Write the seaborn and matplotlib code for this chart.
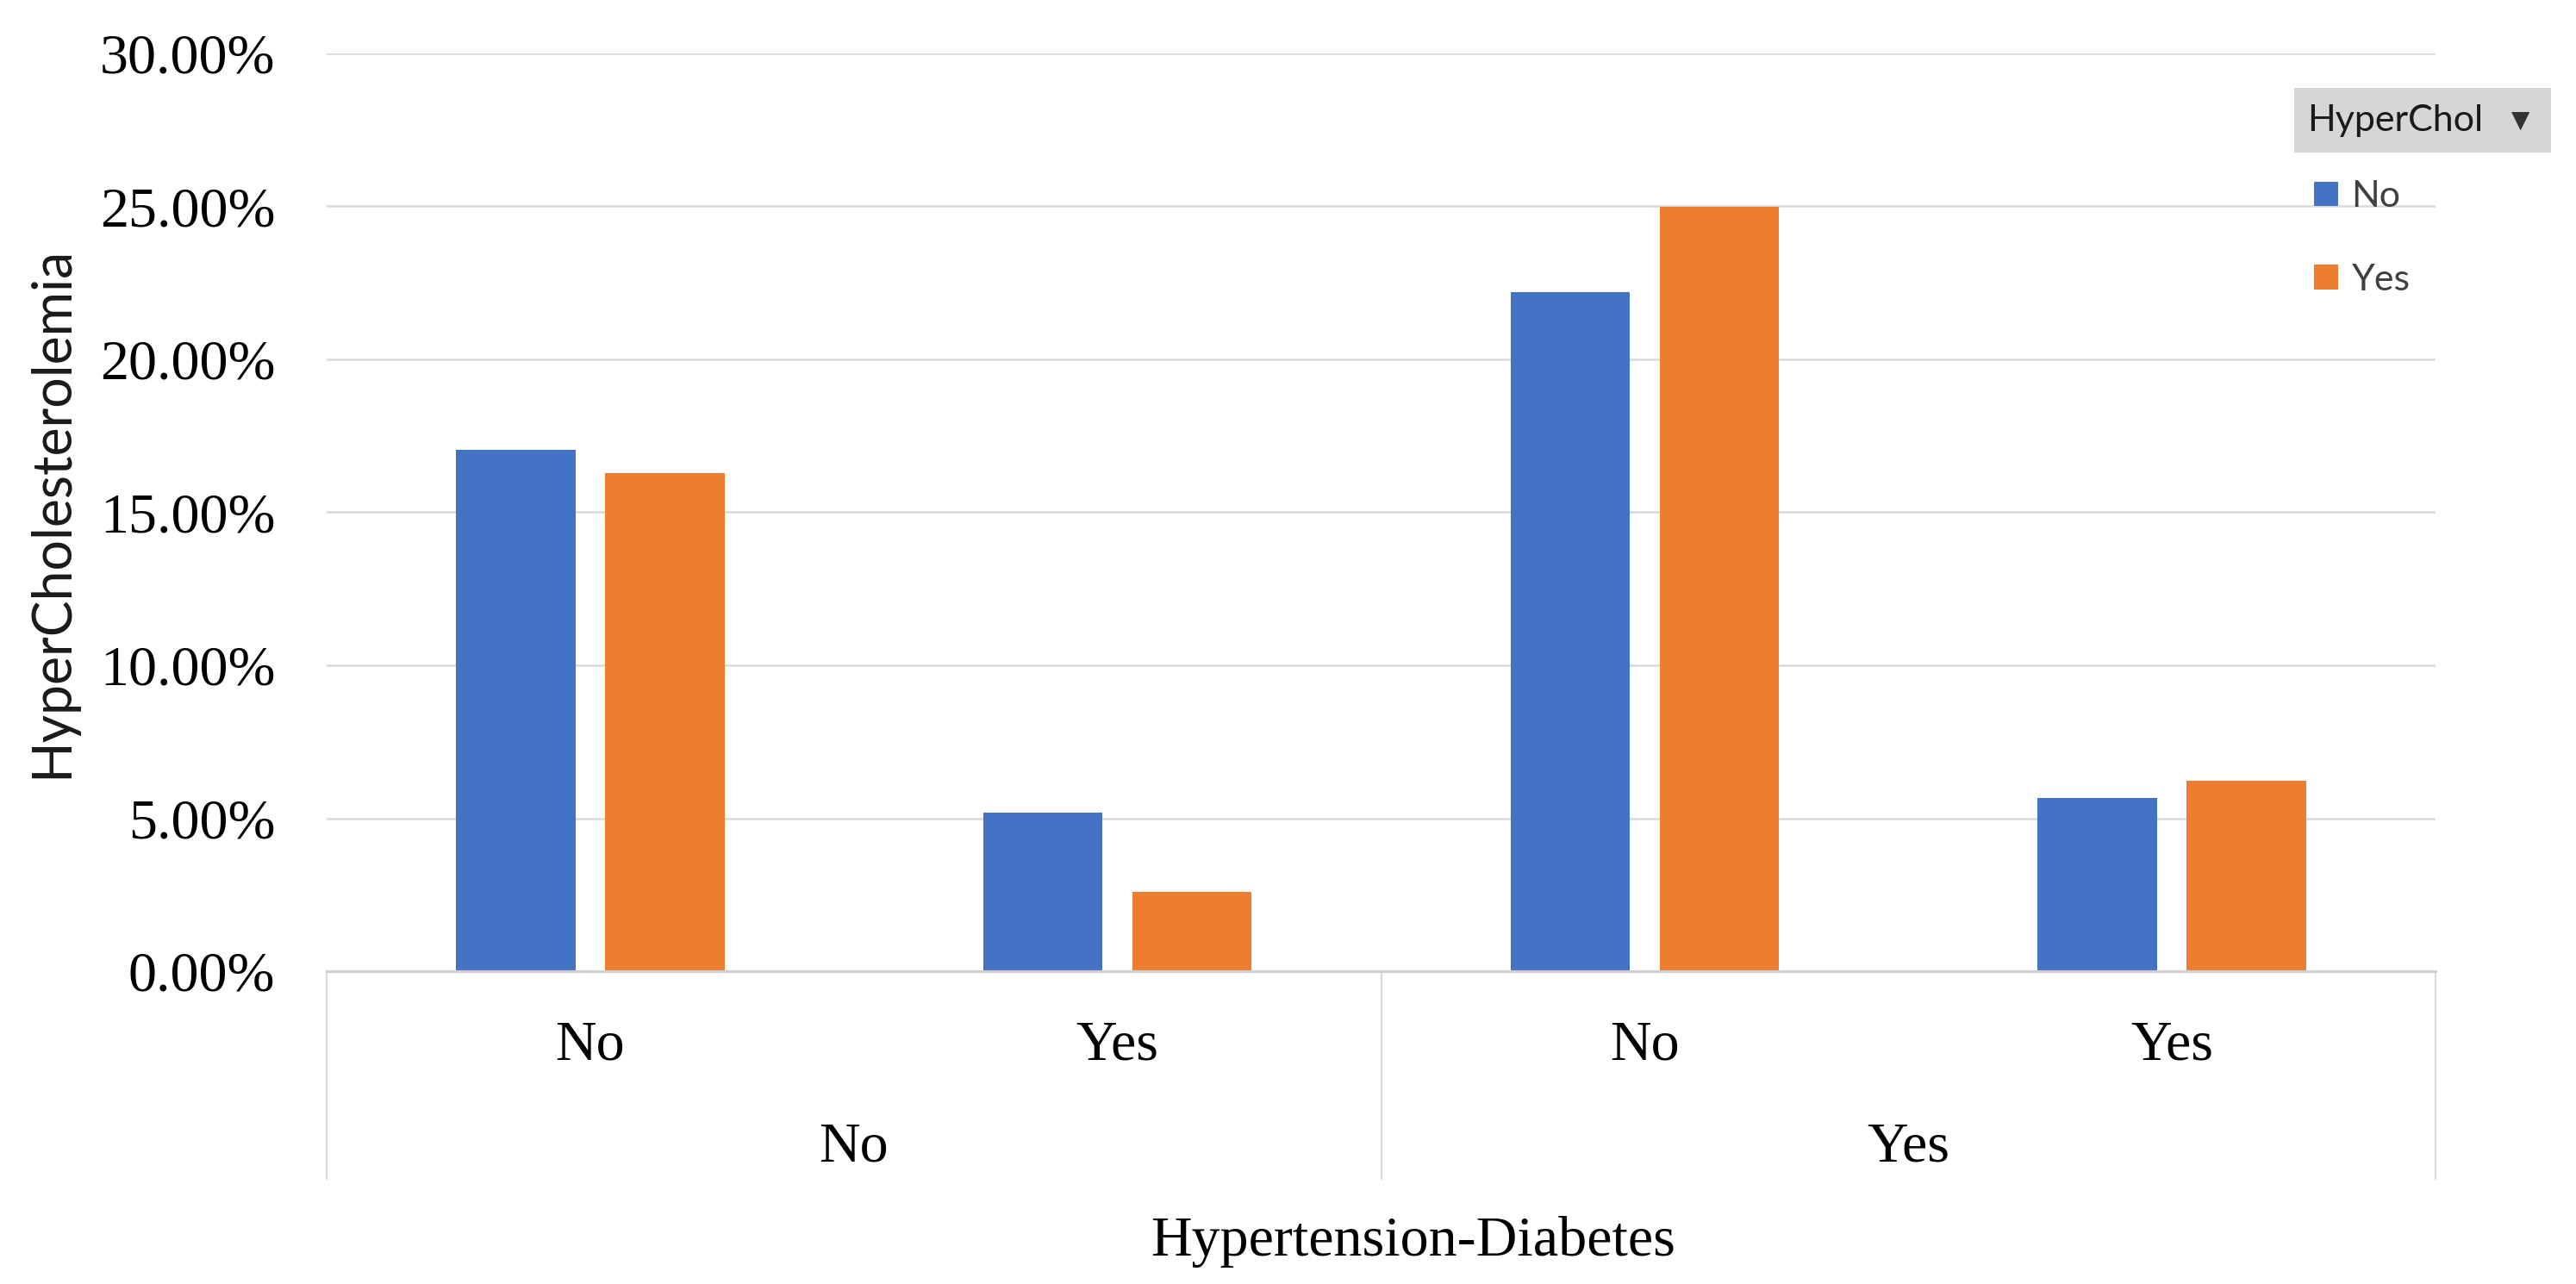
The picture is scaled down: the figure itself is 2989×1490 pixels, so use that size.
import pandas as pd
import matplotlib
matplotlib.use("Agg")
import matplotlib.pyplot as plt
from matplotlib.patches import Rectangle
from matplotlib.ticker import FuncFormatter
import seaborn as sns

# data (percent)
hypertension = ["No", "No", "Yes", "Yes"]
diabetes = ["No", "Yes", "No", "Yes"]
hyperchol_levels = ["No", "Yes"]
pct_chol_no = [17.03, 5.17, 22.20, 5.65]
pct_chol_yes = [16.27, 2.59, 24.98, 6.23]
y_ticks = [0, 5, 10, 15, 20, 25, 30]

BLUE = "#4472C4"
ORANGE = "#ED7D31"
GRID = "#d9d9d9"

groups = [f"{h}-{d}" for h, d in zip(hypertension, diabetes)]
df = pd.DataFrame({
    "group": groups * 2,
    "HyperChol": ["No"] * 4 + ["Yes"] * 4,
    "value": pct_chol_no + pct_chol_yes,
})

sns.set_style("white")
plt.rcParams["font.family"] = ["Liberation Serif", "DejaVu Serif"]

W, H = 2989, 1490
fig = plt.figure(figsize=(W / 100, H / 100), dpi=100)
ax = fig.add_axes([379 / W, (H - 1127) / H, 2447 / W, 1065 / H])

sns.barplot(
    data=df, x="group", y="value", hue="HyperChol", order=groups,
    hue_order=hyperchol_levels, palette=[BLUE, ORANGE], saturation=1,
    width=0.566, gap=0.2, linewidth=0, ax=ax,
)

ax.set_xlim(-0.5, 3.5)
ax.set_ylim(0, 30)
ax.set_yticks(y_ticks)
ax.yaxis.set_major_formatter(FuncFormatter(lambda v, p: f"{v:.2f}%"))
ax.tick_params(axis="y", length=0, pad=43, labelsize=47.5, labelcolor="black")
ax.set_xticks([])
ax.set_xlabel("")
ax.set_ylabel("")
ax.yaxis.grid(True, color=GRID, linewidth=1.8)
ax.set_axisbelow(True)
for s in ["top", "right", "left"]:
    ax.spines[s].set_visible(False)
ax.spines["bottom"].set_color("#d0d0d0")
ax.spines["bottom"].set_linewidth(2.3)

# multi-level category axis
tr = ax.get_xaxis_transform()
for i, d in enumerate(diabetes):
    ax.text(i, -0.0967, d, transform=tr, ha="center", va="baseline",
            fontsize=47.5, color="black")
outer = list(dict.fromkeys(hypertension))
for j, h in enumerate(outer):
    ax.text(2 * j + 0.5, -0.2075, h, transform=tr, ha="center", va="baseline",
            fontsize=47.5, color="black")
for xv in [-0.5, 1.5, 3.5]:
    ax.plot([xv, xv], [0, -0.2263], transform=tr, color=GRID, lw=1.5,
            clip_on=False)

fig.text(1640 / W, 1 - 1457 / H, "Hypertension-Diabetes", ha="center",
         va="baseline", fontsize=47.5, color="black")
fig.text(60 / W, 1 - 594 / H, "HyperCholesterolemia", rotation=90,
         ha="center", va="center", fontsize=45, family=["Lato", "DejaVu Sans"],
         color="#1a1a1a")

# legend with the grey field button on top
handles, labels = ax.get_legend_handles_labels()
ax.get_legend().remove()
fig.legend(handles, labels, loc="upper left",
           bbox_to_anchor=(2685 / W, 1 - 209 / H), frameon=False,
           borderpad=0, borderaxespad=0, handlelength=0.65, handleheight=0.65,
           handletextpad=0.36, labelspacing=1.36,
           prop={"family": ["Lato", "DejaVu Sans"], "size": 31},
           labelcolor="#404040")
fig.patches.append(Rectangle((2662 / W, 1 - 177 / H), 298 / W, 75 / H,
                             transform=fig.transFigure, facecolor="#d6d6d6",
                             edgecolor="none", zorder=0))
fig.text(2677 / W, 1 - 140 / H, "HyperChol", ha="left", va="center",
         fontsize=31, family=["Lato", "DejaVu Sans"], color="#1a1a1a")
fig.text(2925 / W, 1 - 140 / H, "\u25BC", ha="center", va="center",
         fontsize=20, family="DejaVu Sans", color="#333333")

fig.savefig("out.png", dpi=100, facecolor="white")
plt.close(fig)
